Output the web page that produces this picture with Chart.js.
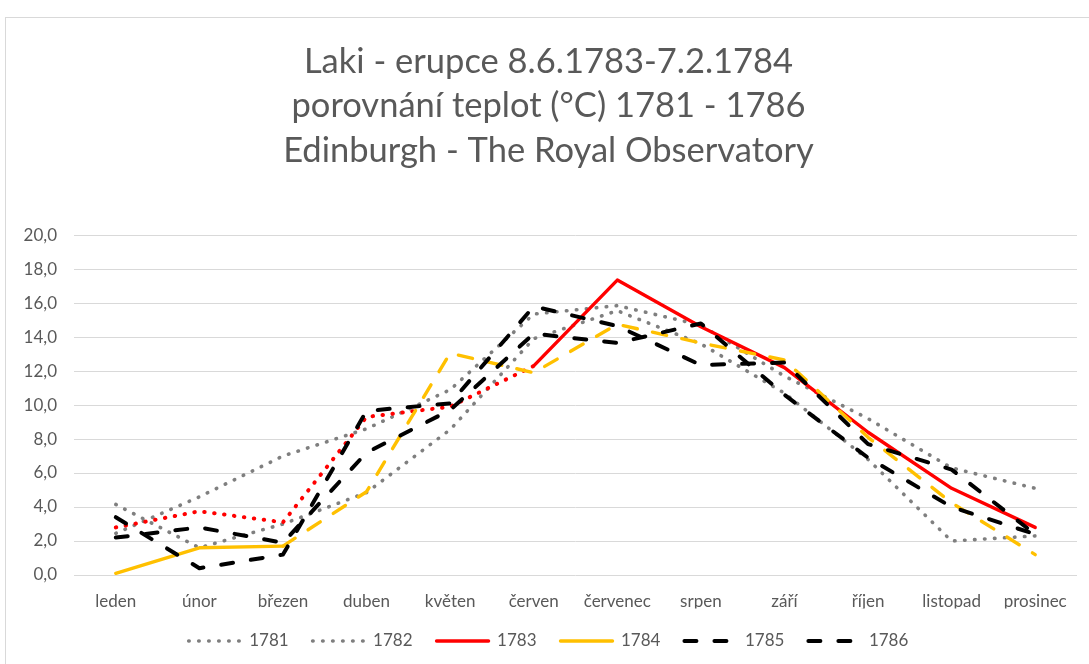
<!DOCTYPE html>
<html lang="cs">
<head>
<meta charset="utf-8">
<title>Laki - erupce 8.6.1783-7.2.1784</title>
<script src="https://cdn.jsdelivr.net/npm/chart.js@4.4.1/dist/chart.umd.min.js"></script>
<style>
    html, body { margin: 0; padding: 0; background: #fff; }
    #wrap { position: relative; width: 1089px; height: 664px; overflow: hidden; }
    #frame { position: absolute; left: 5px; top: 17px; width: 1200px; height: 800px;
             border-top: 1px solid #d9d9d9; border-left: 1px solid #d9d9d9; }
    #chart { position: absolute; left: 0; top: 0; }
</style>
</head>
<body>
<div id="wrap">
    <div id="frame"></div>
    <canvas id="chart" width="1089" height="664"></canvas>
</div>
<script>
    "use strict";

    // Data (monthly mean temperature, °C)
    const months = ['leden', 'únor', 'březen', 'duben', 'květen', 'červen',
                    'červenec', 'srpen', 'září', 'říjen', 'listopad', 'prosinec'];
    const yTickLabels = ['0,0', '2,0', '4,0', '6,0', '8,0', '10,0',
                         '12,0', '14,0', '16,0', '18,0', '20,0'];
    const titleLines = ['Laki - erupce 8.6.1783-7.2.1784',
                        'porovnání teplot (°C) 1781 - 1786',
                        'Edinburgh - The Royal Observatory'];

    const t1781 = [4.15, 1.6, 3.0, 4.85, 8.55, 13.9, 15.55, 13.6, 10.7, 6.8, 2.0, 2.3];
    const t1782 = [2.45, 4.6, 7.0, 8.6, 10.9, 15.35, 15.85, 14.7, 11.7, 9.2, 6.3, 5.1];
    const t1783 = [2.8, 3.75, 3.1, 9.3, 9.9, 12.3, 17.35, 14.6, 12.2, 8.4, 5.1, 2.8];
    const t1784 = [0.1, 1.6, 1.7, 4.9, 13.05, 11.9, 14.75, 13.65, 12.65, 8.1, 4.25, 1.2];
    const t1785 = [3.4, 0.4, 1.2, 9.65, 10.1, 15.8, 14.65, 12.35, 12.5, 7.7, 6.2, 2.4];
    const t1786 = [2.2, 2.8, 1.9, 7.2, 9.7, 14.2, 13.65, 14.8, 10.6, 6.9, 4.0, 2.4];

    // Line styles
    const dotted = [0.5, 9.5];
    const longDash = [12, 18];
    const yellowDash = [14.5, 15.5];
    const textColor = '#595959';
    const fontFamily = 'Lato, "Open Sans", sans-serif';

    function series(label, data, color, width, dash, order) {
        return {
            label: label,
            data: data,
            borderColor: color,
            backgroundColor: color,
            borderWidth: width,
            borderDash: dash,
            borderCapStyle: 'round',
            borderJoinStyle: 'round',
            pointRadius: 0,
            pointHoverRadius: 0,
            tension: 0,
            fill: false,
            order: order
        };
    }

    const d1781 = series('1781', t1781, '#7f7f7f', 3.6, dotted, 6);
    const d1782 = series('1782', t1782, '#7f7f7f', 3.6, dotted, 5);
    const d1783 = series('1783', t1783, '#ff0000', 3.4, [], 4);
    const d1784 = series('1784', t1784, '#ffc000', 3.4, [], 3);
    const d1785 = series('1785', t1785, '#000000', 4, longDash, 2);
    const d1786 = series('1786', t1786, '#000000', 4, longDash, 1);

    // 1783 dotted up to červen, solid after
    d1783.segment = {
        borderDash: ctx => ctx.p1DataIndex <= 5 ? dotted : undefined,
        borderWidth: ctx => ctx.p1DataIndex <= 5 ? 4 : undefined
    };
    // 1784 solid up to březen, dashed after
    d1784.segment = {
        borderDash: ctx => ctx.p0DataIndex >= 2 ? yellowDash : undefined
    };

    // legend markers take the dataset line style, not the point style
    function legendLabels(chart) {
        const items = Chart.defaults.plugins.legend.labels.generateLabels(chart);
        items.forEach(item => {
            const ds = chart.data.datasets[item.datasetIndex];
            item.pointStyle = 'line';
            item.strokeStyle = ds.borderColor;
            item.lineWidth = ds.borderWidth;
            item.lineDash = ds.borderDash;
            item.lineCap = ds.borderCapStyle;
        });
        return items.sort((a, b) => a.datasetIndex - b.datasetIndex);
    }

    new Chart(document.getElementById('chart'), {
        type: 'line',
        data: {
            labels: months,
            datasets: [d1781, d1782, d1783, d1784, d1785, d1786]
        },
        options: {
            responsive: false,
            animation: false,
            events: [],
            layout: {
                padding: { left: 20, right: 12, top: 0, bottom: 4.5 }
            },
            plugins: {
                title: {
                    display: true,
                    text: titleLines,
                    color: textColor,
                    font: { family: fontFamily, size: 34.5, weight: 'normal', lineHeight: 1.3 },
                    padding: { top: 39, bottom: 61.5 }
                },
                legend: {
                    position: 'bottom',
                    labels: {
                        usePointStyle: true,
                        pointStyleWidth: 52,
                        padding: 24,
                        color: textColor,
                        font: { family: fontFamily, size: 17 },
                        generateLabels: legendLabels
                    }
                },
                tooltip: { enabled: false }
            },
            scales: {
                x: {
                    offset: true,
                    grid: { display: false, drawTicks: false },
                    border: { display: false },
                    ticks: {
                        color: textColor,
                        padding: 16,
                        maxRotation: 0,
                        font: { family: fontFamily, size: 17 }
                    },
                    afterFit: scale => { scale.height = 33.5; }
                },
                y: {
                    min: 0,
                    max: 20,
                    grid: { color: '#d9d9d9', lineWidth: 1, drawTicks: false },
                    border: { display: false },
                    ticks: {
                        stepSize: 2,
                        padding: 17,
                        color: textColor,
                        font: { family: fontFamily, size: 17 },
                        callback: (value, index) => yTickLabels[index]
                    },
                    afterFit: scale => { scale.width = 54; }
                }
            }
        }
    });
</script>
</body>
</html>
